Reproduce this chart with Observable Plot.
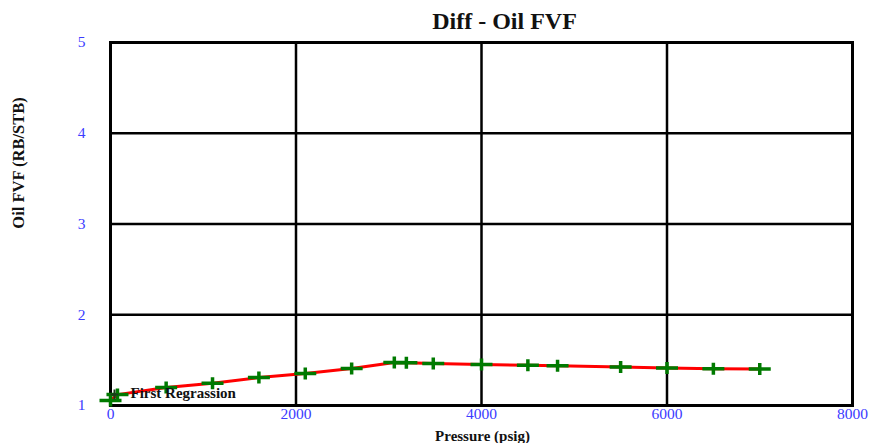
<!DOCTYPE html>
<html>
<head>
<meta charset="utf-8">
<script src="https://cdn.jsdelivr.net/npm/d3@7"></script>
<script src="https://cdn.jsdelivr.net/npm/@observablehq/plot@0.6"></script>
<style>
  html, body { margin: 0; padding: 0; background: #fff; }
  svg { display: block; }
</style>
</head>
<body>
<div id="chart"></div>
<script>
const chartTitle = "Diff - Oil FVF";
const xLabel = "Pressure (psig)";
const yLabel = "Oil FVF (RB/STB)";
const seriesName = "First Regrassion";

const pressure = [0, 75, 600, 1100, 1600, 2100, 2600, 3060, 3190, 3480, 4000, 4500, 4820, 5500, 6000, 6500, 7000];
const oilFVF  = [1.055, 1.120, 1.198, 1.245, 1.308, 1.353, 1.408, 1.474, 1.472, 1.463, 1.452, 1.443, 1.438, 1.425, 1.413, 1.405, 1.401];

const xTicks = [0, 2000, 4000, 6000, 8000];
const yTicks = [1, 2, 3, 4, 5];

const data = pressure.map((p, i) => ({p, v: oilFVF[i]}));

const crossSymbol = {
  draw(ctx, size) {
    ctx.moveTo(-11, 0); ctx.lineTo(11, 0);
    ctx.moveTo(0, -6); ctx.lineTo(0, 6);
  }
};
const smallCross = {
  draw(ctx, size) {
    ctx.moveTo(-4, 0); ctx.lineTo(4, 0);
    ctx.moveTo(0, -5); ctx.lineTo(0, 5);
  }
};

const blue = "#3c3cff";
const chart = Plot.plot({
  width: 874,
  height: 443,
  marginLeft: 110,
  marginRight: 22,
  marginTop: 42,
  marginBottom: 38,
  style: {fontFamily: "'Liberation Serif', 'Times New Roman', serif", background: "#fff"},
  x: {domain: [0, 8000], axis: null},
  y: {domain: [1, 5], axis: null},
  marks: [
    Plot.gridX(xTicks.slice(1, -1), {stroke: "black", strokeOpacity: 1, strokeWidth: 2.5}),
    Plot.gridY(yTicks.slice(1, -1), {stroke: "black", strokeOpacity: 1, strokeWidth: 2.5}),
    Plot.frame({stroke: "black", strokeWidth: 3}),
    Plot.axisX(xTicks, {anchor: "bottom", tickSize: 0, tickPadding: 2, fill: blue, fontSize: 15.5, label: null, tickFormat: d => String(d)}),
    Plot.axisY(yTicks, {anchor: "left", tickSize: 0, tickPadding: 25, fill: blue, fontSize: 15.5, label: null, tickFormat: d => String(d)}),
    Plot.line(data, {x: "p", y: "v", stroke: "#ff0000", strokeWidth: 3}),
    Plot.dot(data, {x: "p", y: "v", symbol: crossSymbol, r: 5, fill: "none", stroke: "#007a00", strokeWidth: 3.5}),
    Plot.dot([seriesName], {frameAnchor: "bottom-left", dx: 4, dy: -11, symbol: smallCross, r: 3, fill: "none", stroke: "#1a3a1a", strokeWidth: 2}),
    Plot.text([seriesName], {frameAnchor: "bottom-left", dx: 20, dy: -12, text: d => d, textAnchor: "start", lineAnchor: "middle", fontSize: 15, fontWeight: "bold", fill: "#111"}),
    Plot.text([chartTitle], {frameAnchor: "top", dx: 23, dy: -21, text: d => d, textAnchor: "middle", lineAnchor: "middle", fontSize: 24, fontWeight: "bold", fill: "#111"}),
    Plot.text([xLabel], {frameAnchor: "bottom", dx: 1, dy: 31, text: d => d, textAnchor: "middle", lineAnchor: "middle", fontSize: 15, fontWeight: "bold", fill: "#111"}),
    Plot.text([yLabel], {frameAnchor: "left", dx: -92, dy: -61, rotate: -90, text: d => d, textAnchor: "middle", lineAnchor: "middle", fontSize: 16.5, fontWeight: "bold", fill: "#111"})
  ]
});
document.getElementById("chart").appendChild(chart);
</script>
</body>
</html>
